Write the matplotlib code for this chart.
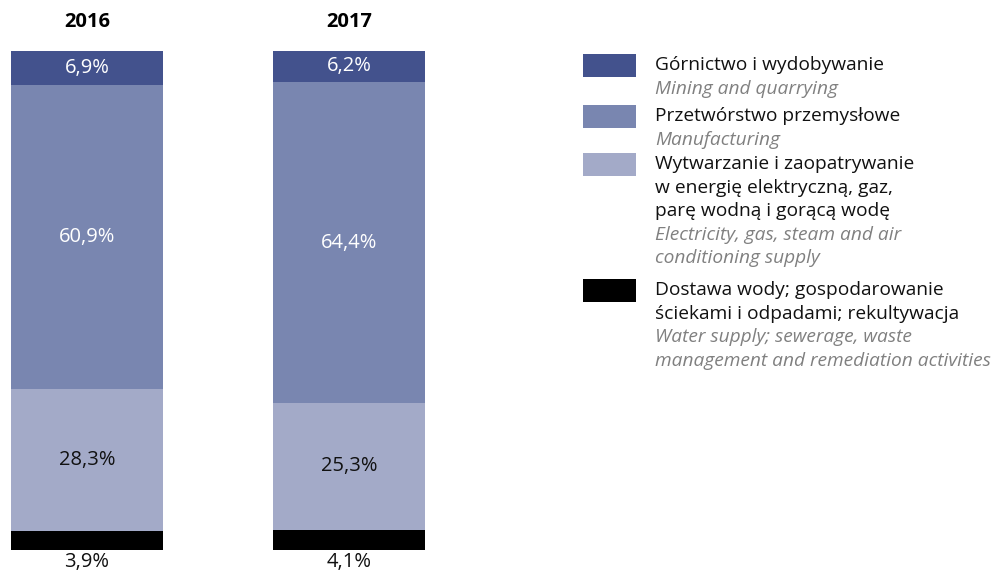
import numpy as np
import matplotlib.pyplot as plt

plt.rcParams['font.family'] = ['Open Sans', 'DejaVu Sans']

# data
years = ["2016", "2017"]
mining = [6.9, 6.2]
manufacturing = [60.9, 64.4]
energy = [28.3, 25.3]
water = [3.9, 4.1]

colors = ["#000000", "#a3aac8", "#7986b0", "#43528d"]

W, H = 1000, 571
fig = plt.figure(figsize=(W / 100, H / 100), dpi=100)


def fy(py):
    return 1 - py / H


# bars
ax = fig.add_axes([0, fy(550), 0.44, fy(51) - fy(550)])
x = np.arange(len(years))
bottom = np.zeros(len(years))
series = [water, energy, manufacturing, mining]
for vals, col in zip(series, colors):
    ax.bar(x, vals, bottom=bottom, width=0.58, color=col, linewidth=0)
    bottom += np.array(vals)
ax.set_xlim(-87 / 262, 353 / 262)
ax.set_ylim(0, 100)
ax.axis("off")


def fmt(v):
    return f"{v:.1f}%".replace(".", ",")


fs = 14.5
for i in range(len(years)):
    b = water[i]
    ax.text(i, -2.4, fmt(water[i]), ha="center", va="center", fontsize=fs,
            color="#111111", clip_on=False)
    ax.text(i, b + energy[i] / 2, fmt(energy[i]), ha="center", va="center",
            fontsize=fs, color="#111111")
    b += energy[i]
    ax.text(i, b + manufacturing[i] / 2, fmt(manufacturing[i]), ha="center",
            va="center", fontsize=fs, color="white")
    b += manufacturing[i]
    ax.text(i, b + mining[i] / 2, fmt(mining[i]), ha="center", va="center",
            fontsize=fs, color="white")
    ax.text(i, 105.8, years[i], ha="center", va="center", fontsize=14.5,
            fontweight="bold", clip_on=False)

# legend in pixel coordinates
lg = fig.add_axes([0, 0, 1, 1])
lg.set_xlim(0, W)
lg.set_ylim(H, 0)
lg.axis("off")

legend_items = [
    ("#43528d", 54, ["Górnictwo i wydobywanie"], ["Mining and quarrying"]),
    ("#7986b0", 105, ["Przetwórstwo przemysłowe"], ["Manufacturing"]),
    ("#a3aac8", 153, ["Wytwarzanie i zaopatrywanie",
                      "w energię elektryczną, gaz,",
                      "parę wodną i gorącą wodę"],
     ["Electricity, gas, steam and air", "conditioning supply"]),
    ("#000000", 279, ["Dostawa wody; gospodarowanie",
                      "ściekami i odpadami; rekultywacja"],
     ["Water supply; sewerage, waste",
      "management and remediation activities"]),
]
step = 23.6
for col, top, pl, en in legend_items:
    lg.add_patch(plt.Rectangle((583, top), 53, 23, color=col, lw=0))
    yy = top + 11
    for line in pl:
        lg.text(655, yy, line, ha="left", va="center", fontsize=13.8,
                color="#111111")
        yy += step
    for line in en:
        lg.text(655, yy, line, ha="left", va="center", fontsize=13.8,
                color="#808080", style="italic")
        yy += step

fig.savefig("out.png", dpi=100)
